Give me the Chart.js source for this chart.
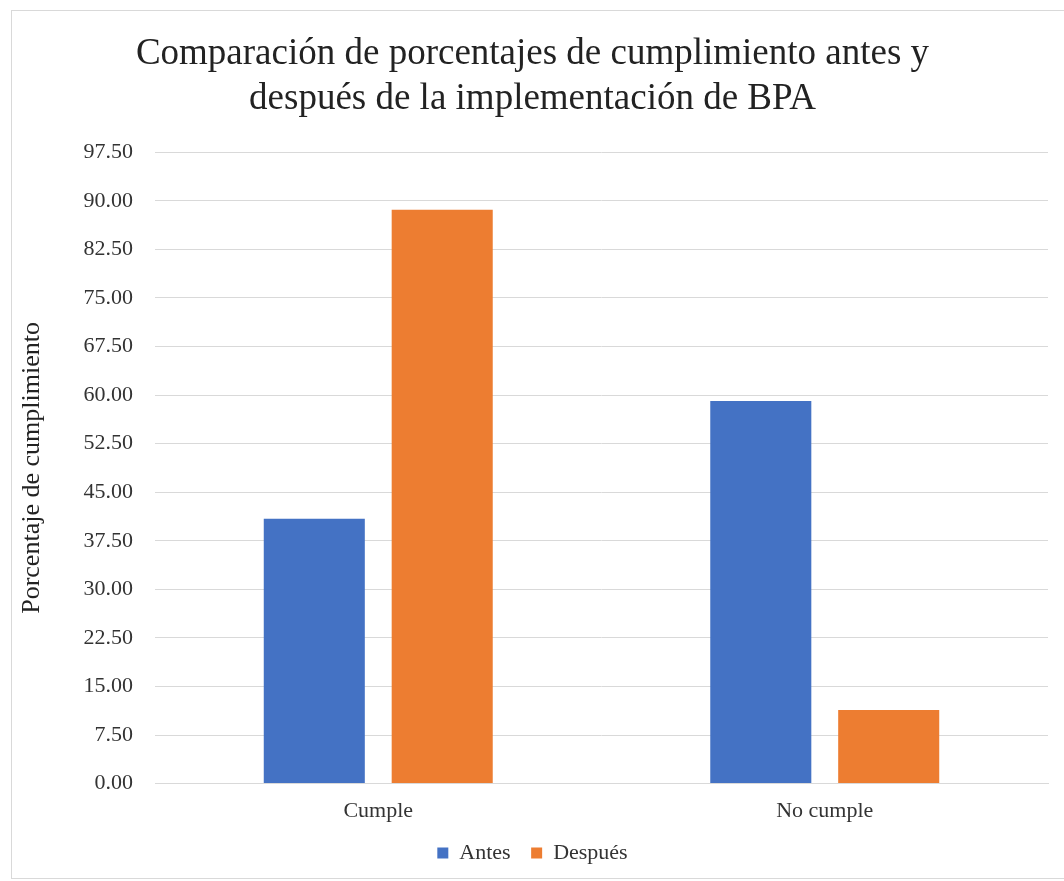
<!DOCTYPE html>
<html>
<head>
<meta charset="utf-8">
<script src="https://cdn.jsdelivr.net/npm/chart.js@4/dist/chart.umd.min.js"></script>
<style>
  body { margin: 0; background: #fff; }
  #frame { position: absolute; left: 11px; top: 10px; width: 1060px; height: 867px; border: 1px solid #d9d9d9; }
  #wrap { position: absolute; left: 0; top: 0; width: 1064px; height: 881px; }
</style>
</head>
<body>
<div id="frame"></div>
<div id="wrap"><canvas id="myChart"></canvas></div>
<script>
var categories = ["Cumple", "No cumple"];
var antes = [40.91, 59.09];
var despues = [88.64, 11.36];
var yMax = 97.5;
var yStep = 7.5;

var serif = "'Liberation Serif', 'Times New Roman', serif";

new Chart("myChart", {
    type: "bar",
    data: {
        labels: categories,
        datasets: [{
            label: "Antes",
            data: antes,
            backgroundColor: "#4472c4",
            categoryPercentage: 0.573,
            barPercentage: 0.79
        }, {
            label: "Después",
            data: despues,
            backgroundColor: "#ed7d31",
            categoryPercentage: 0.573,
            barPercentage: 0.79
        }]
    },
    options: {
        responsive: true,
        maintainAspectRatio: false,
        animation: false,
        layout: {padding: {left: 17, right: 16, top: 32, bottom: 7}},
        plugins: {
            title: {
                display: true,
                text: ["Comparación de porcentajes de cumplimiento antes y", "después de la implementación de BPA"],
                font: {family: serif, size: 37, weight: "normal", lineHeight: 1.22},
                color: "#222",
                padding: {top: 0, bottom: 30}
            },
            legend: {
                display: true,
                position: "bottom",
                labels: {
                    font: {family: serif, size: 22},
                    color: "#333",
                    boxWidth: 11,
                    boxHeight: 11,
                    padding: 4,
                    generateLabels: function (chart) {
                        var items = Chart.defaults.plugins.legend.labels.generateLabels(chart);
                        // a bit more room between the two entries
                        items[0].text = items[0].text + "   ";
                        return items;
                    }
                }
            },
            tooltip: {enabled: false}
        },
        scales: {
            x: {
                grid: {display: false, drawTicks: false},
                border: {color: "#d9d9d9"},
                ticks: {font: {family: serif, size: 22}, color: "#333", padding: 14}
            },
            y: {
                min: 0,
                max: yMax,
                afterFit: function (axis) { axis.width = 138; },
                afterBuildTicks: function (axis) {
                    var t = [];
                    for (var v = 0; v <= yMax + 0.001; v += yStep) t.push({value: v});
                    axis.ticks = t;
                },
                grid: {color: "#d9d9d9", lineWidth: 1, drawTicks: false},
                border: {display: false},
                ticks: {
                    font: {family: serif, size: 22},
                    color: "#333",
                    padding: 22,
                    callback: function (v) { return Number(v).toFixed(2); }
                },
                title: {
                    display: true,
                    text: "Porcentaje de cumplimiento",
                    font: {family: serif, size: 26},
                    color: "#222",
                    padding: 0
                }
            }
        }
    }
});
</script>
</body>
</html>
